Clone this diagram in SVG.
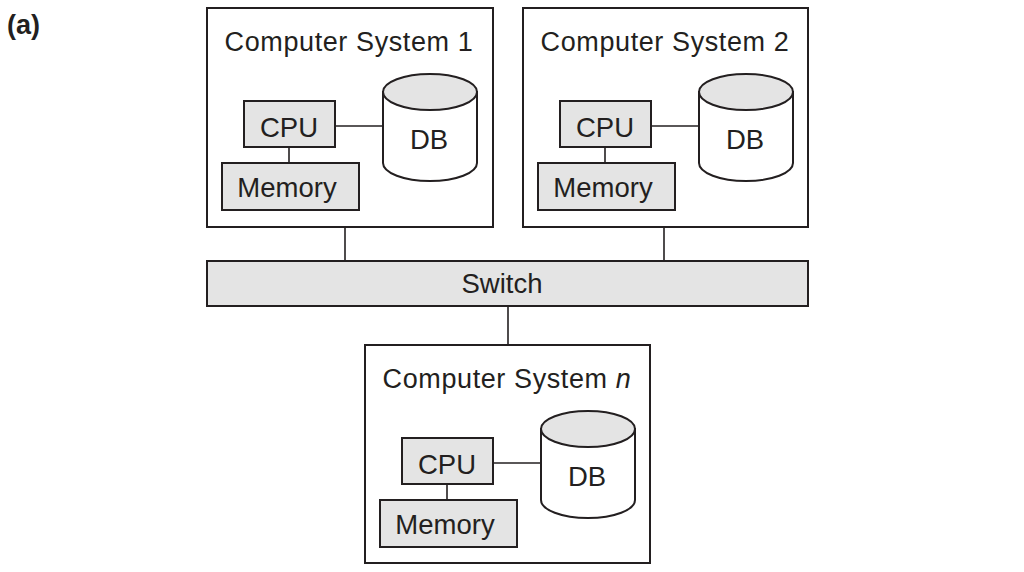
<svg xmlns="http://www.w3.org/2000/svg" width="1024" height="572" viewBox="0 0 1024 572">
  <style>
    .frame { fill: #ffffff; stroke: #231f20; stroke-width: 2; }
    .gray { fill: #e4e4e4; stroke: #231f20; stroke-width: 2; }
    .db { fill: #ffffff; stroke: #231f20; stroke-width: 2; }
    .dbtop { fill: #e4e4e4; stroke: #231f20; stroke-width: 2; }
    .wire { stroke: #231f20; stroke-width: 1.6; fill: none; }
    .t { font-family: "Liberation Sans", Arial, sans-serif; font-size: 27.5px; fill: #231f20; text-anchor: middle; }
    .title { font-family: "Liberation Sans", Arial, sans-serif; font-size: 27px; fill: #231f20; text-anchor: middle; letter-spacing: 0.6px; }
    .lbl { font-family: "Liberation Sans", Arial, sans-serif; font-size: 27px; font-weight: bold; fill: #231f20; }
  </style>
  <defs>
    <g id="inner">
      <line class="wire" x1="82" y1="139" x2="82" y2="155"/>
      <line class="wire" x1="128" y1="118" x2="176" y2="118"/>
      <rect class="gray" x="37" y="93" width="91" height="46"/>
      <rect class="gray" x="15" y="155" width="137" height="47"/>
      <path class="db" d="M176,84 L176,155 A47,18 0 0 0 270,155 L270,84 Z"/>
      <ellipse class="dbtop" cx="223" cy="84" rx="47" ry="18"/>
      <text class="t" x="82" y="129">CPU</text>
      <text class="t" x="80" y="189">Memory</text>
      <text class="t" x="222" y="141">DB</text>
    </g>
  </defs>

  <text class="lbl" x="7" y="34">(a)</text>

  <g id="connectors">
    <line class="wire" x1="345" y1="227" x2="345" y2="261"/>
    <line class="wire" x1="664" y1="227" x2="664" y2="261"/>
    <line class="wire" x1="508" y1="306" x2="508" y2="345"/>
  </g>

  <g id="system1" transform="translate(207,8)">
    <rect class="frame" x="0" y="0" width="286" height="219"/>
    <text class="title" x="142" y="43">Computer System 1</text>
    <use href="#inner"/>
  </g>

  <g id="system2" transform="translate(523,8)">
    <rect class="frame" x="0" y="0" width="285" height="219"/>
    <text class="title" x="142" y="43">Computer System 2</text>
    <use href="#inner"/>
  </g>

  <g id="switch">
    <rect class="gray" x="207" y="261" width="601" height="45"/>
    <text class="t" x="502" y="293">Switch</text>
  </g>

  <g id="systemn" transform="translate(365,345)">
    <rect class="frame" x="0" y="0" width="285" height="218"/>
    <text class="title" x="142" y="43">Computer System <tspan font-style="italic">n</tspan></text>
    <use href="#inner"/>
  </g>
</svg>
